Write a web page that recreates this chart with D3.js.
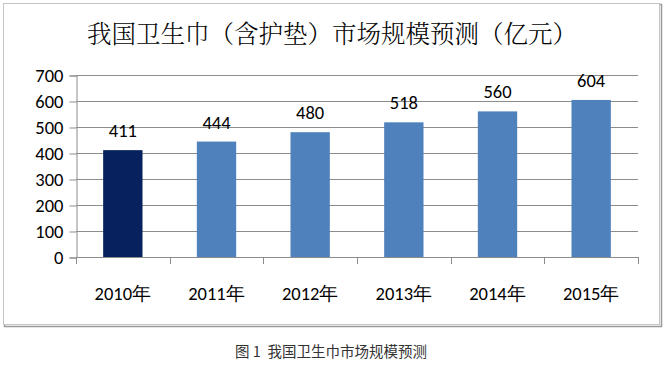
<!DOCTYPE html>
<html><head><meta charset="utf-8">
<script src="https://cdn.jsdelivr.net/npm/d3@7"></script>
<style>html,body{margin:0;padding:0;background:#fff;}</style>
</head><body>
<script>
const categories = ["2010年","2011年","2012年","2013年","2014年","2015年"];
const values = [411, 444, 480, 518, 560, 604];
const yTicks = [0,100,200,300,400,500,600,700];
const titleText = "我国卫生巾（含护垫）市场规模预测（亿元）";
const captionText = "图 1  我国卫生巾市场规模预测";

const W = 664, H = 365;
const svg = d3.select("body").append("svg").attr("width", W).attr("height", H);
svg.append("rect").attr("width", W).attr("height", H).attr("fill", "#fff");

// chart frame with shadow
svg.append("rect").attr("x", 4.5).attr("y", 4.5).attr("width", 657).attr("height", 322)
  .attr("fill", "none").attr("stroke", "#9a9a9a").attr("stroke-width", 1.5);
svg.append("rect").attr("x", 3.5).attr("y", 3.5).attr("width", 656).attr("height", 321)
  .attr("fill", "#fff").attr("stroke", "#c4c4c4").attr("stroke-width", 1);

const x0 = 76, x1 = 638, yTop = 75, yBot = 257;
const x = d3.scaleBand().domain(categories).range([x0, x1]).paddingInner(0.58).paddingOuter(0.29);
const y = d3.scaleLinear().domain([0, 700]).range([yBot, yTop]);

const font = "Carlito, Calibri, 'Liberation Sans', Arial, sans-serif";
const fs = 18.5;

// gridlines
svg.append("g").selectAll("line").data(yTicks.filter(d => d > 0)).join("line")
  .attr("x1", x0).attr("x2", x1).attr("y1", d => Math.round(y(d)) + 0.5).attr("y2", d => Math.round(y(d)) + 0.5)
  .attr("stroke", "#8c8c8c").attr("stroke-width", 1);

// y axis
const yAxis = d3.axisLeft(y).tickValues(yTicks).tickSize(7).tickPadding(6).tickFormat(d3.format("d"));
const gy = svg.append("g").attr("transform", `translate(${x0 + 0.5},0.5)`).call(yAxis);
gy.select(".domain").attr("stroke", "#8c8c8c");
gy.selectAll(".tick line").attr("stroke", "#8c8c8c");
gy.selectAll("text").attr("font-family", font).attr("font-size", fs).attr("fill", "#000");

// x axis: ticks at category boundaries
const step = x.step();
const boundaries = d3.range(categories.length + 1).map(i => x0 + i * step);
svg.append("line").attr("x1", x0).attr("x2", x1).attr("y1", yBot + 0.5).attr("y2", yBot + 0.5).attr("stroke", "#8c8c8c");
svg.append("g").selectAll("line").data(boundaries).join("line")
  .attr("x1", d => Math.round(d) + 0.5).attr("x2", d => Math.round(d) + 0.5)
  .attr("y1", yBot).attr("y2", yBot + 7).attr("stroke", "#8c8c8c");

svg.append("g").selectAll("text").data(categories).join("text")
  .attr("x", d => x(d) + x.bandwidth() / 2).attr("y", 300)
  .attr("text-anchor", "middle").attr("font-family", font).attr("font-size", fs).attr("fill", "#000")
  .text(d => d);

// bars
svg.append("g").selectAll("rect").data(values).join("rect")
  .attr("x", (d, i) => x(categories[i])).attr("width", x.bandwidth())
  .attr("y", d => y(d)).attr("height", d => y(0) - y(d))
  .attr("fill", (d, i) => i === 0 ? "#06215e" : "#4f81bd");

// value labels
svg.append("g").selectAll("text").data(values).join("text")
  .attr("x", (d, i) => x(categories[i]) + x.bandwidth() / 2).attr("y", d => y(d) - 13)
  .attr("text-anchor", "middle").attr("font-family", font).attr("font-size", fs).attr("fill", "#000")
  .text(d => d);

// title
svg.append("text").attr("x", 332).attr("y", 43).attr("text-anchor", "middle")
  .attr("font-family", "'Noto Serif CJK SC', 'Noto Sans CJK SC', serif").attr("font-size", 24.5)
  .attr("font-weight", 300).attr("fill", "#000").text(titleText);

// caption
svg.append("text").attr("x", 331).attr("y", 357).attr("text-anchor", "middle")
  .style("white-space", "pre")
  .attr("font-family", "'Noto Sans CJK SC', sans-serif").attr("font-size", 14.5)
  .attr("fill", "#333").text(captionText);
</script>
</body></html>
